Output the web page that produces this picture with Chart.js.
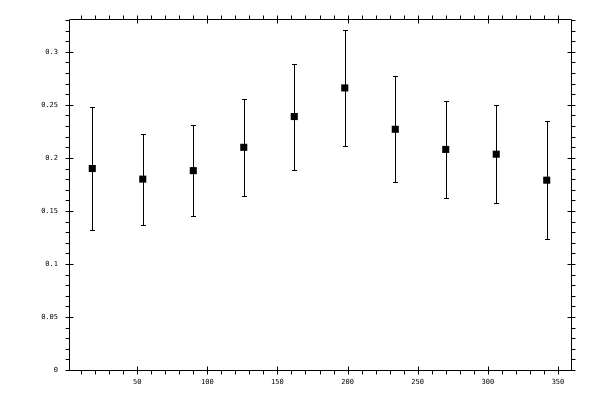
<!DOCTYPE html>
<html><head><meta charset="utf-8">
<script src="https://cdn.jsdelivr.net/npm/chart.js@4"></script>
<style>html,body{margin:0;padding:0;background:#fff}#wrap{width:600px;height:400px;position:relative}</style>
</head><body><div id="wrap"><canvas id="c" width="600" height="400"></canvas></div>
<script>
const xValues = [18, 54, 90, 126, 162, 198, 234, 270, 306, 342];
const yValues = [0.190, 0.180, 0.188, 0.210, 0.239, 0.266, 0.227, 0.208, 0.2035, 0.179];
const yErrors = [0.058, 0.043, 0.043, 0.046, 0.050, 0.055, 0.050, 0.046, 0.046, 0.0555];
const xTickValues = [50, 100, 150, 200, 250, 300, 350];
const xTickLabels = ['50', '100', '150', '200', '250', '300', '350'];
const yTickValues = [0, 0.05, 0.1, 0.15, 0.2, 0.25, 0.3];
const yTickLabels = ['0', '0.05', '0.1', '0.15', '0.2', '0.25', '0.3'];
const xMinorStep = 10;
const yMinorStep = 0.01;
const minorPerMajor = 5;

const points = xValues.map((x, i) => ({x: x, y: yValues[i]}));

const errorBarPlugin = {
  id: 'errorBars',
  beforeDatasetsDraw(chart) {
    const {ctx, scales: {x, y}} = chart;
    ctx.save();
    ctx.strokeStyle = '#000';
    ctx.lineWidth = 1;
    ctx.beginPath();
    xValues.forEach((xv, i) => {
      const px = Math.round(x.getPixelForValue(xv)) + 0.5;
      const top = Math.round(y.getPixelForValue(yValues[i] + yErrors[i])) + 0.5;
      const bot = Math.round(y.getPixelForValue(yValues[i] - yErrors[i])) + 0.5;
      ctx.moveTo(px, top); ctx.lineTo(px, bot);
      ctx.moveTo(px - 2.5, top); ctx.lineTo(px + 2.5, top);
      ctx.moveTo(px - 2.5, bot); ctx.lineTo(px + 2.5, bot);
    });
    ctx.stroke();
    ctx.restore();
  }
};

const framePlugin = {
  id: 'frame',
  afterDraw(chart) {
    const {ctx, chartArea: a, scales: {x, y}} = chart;
    ctx.save();
    ctx.strokeStyle = '#000';
    ctx.lineWidth = 1;
    const L = Math.round(a.left) + 0.5, R = Math.round(a.right) + 0.5;
    const T = Math.round(a.top) + 0.5, B = Math.round(a.bottom) + 0.5;
    ctx.beginPath();
    ctx.rect(L, T, R - L, B - T);
    const out = 4, inw = 4;
    for (let i = Math.ceil(x.min / xMinorStep); i * xMinorStep <= x.max + 1e-9; i++) {
      const major = i % minorPerMajor === 0;
      const px = Math.round(x.getPixelForValue(i * xMinorStep)) + 0.5;
      ctx.moveTo(px, B + out); ctx.lineTo(px, B - (major ? inw : 0));
      ctx.moveTo(px, T - out); ctx.lineTo(px, T + (major ? inw : 0));
    }
    for (let i = Math.ceil(y.min / yMinorStep - 1e-9); i * yMinorStep <= y.max + 1e-9; i++) {
      const major = i % minorPerMajor === 0;
      const py = Math.round(y.getPixelForValue(i * yMinorStep)) + 0.5;
      ctx.moveTo(L - out, py); ctx.lineTo(L + (major ? inw : 0), py);
      ctx.moveTo(R + out, py); ctx.lineTo(R - (major ? inw : 0), py);
    }
    ctx.stroke();
    ctx.restore();
  }
};

const tickFont = {family: "'DejaVu Sans Mono', 'Liberation Mono', monospace", size: 7};

new Chart(document.getElementById('c'), {
  type: 'scatter',
  data: {
    datasets: [{
      data: points,
      showLine: false,
      pointStyle: 'rect',
      pointRadius: 5,
      pointHoverRadius: 5,
      borderWidth: 0,
      backgroundColor: '#000',
      borderColor: '#000'
    }]
  },
  options: {
    responsive: false,
    animation: false,
    devicePixelRatio: 1,
    layout: {padding: {top: 19, right: 29, left: 0, bottom: 0}},
    plugins: {legend: {display: false}, tooltip: {enabled: false}},
    scales: {
      x: {
        type: 'linear',
        min: 1.4,
        max: 359.3,
        grid: {display: false, drawTicks: false},
        border: {display: false},
        afterBuildTicks: (s) => { s.ticks = xTickValues.map(v => ({value: v})); },
        afterFit: (s) => { s.height = 30; },
        ticks: {
          font: tickFont, color: '#000', padding: 8, maxRotation: 0, autoSkip: false,
          callback: (v) => xTickLabels[xTickValues.indexOf(v)]
        }
      },
      y: {
        type: 'linear',
        min: 0,
        max: 0.331,
        grid: {display: false, drawTicks: false},
        border: {display: false},
        afterBuildTicks: (s) => { s.ticks = yTickValues.map(v => ({value: v})); },
        afterFit: (s) => { s.width = 69; },
        ticks: {
          font: tickFont, color: '#000', padding: 11, autoSkip: false,
          callback: (v) => yTickLabels[yTickValues.indexOf(v)]
        }
      }
    }
  },
  plugins: [errorBarPlugin, framePlugin]
});
</script>
</body></html>
